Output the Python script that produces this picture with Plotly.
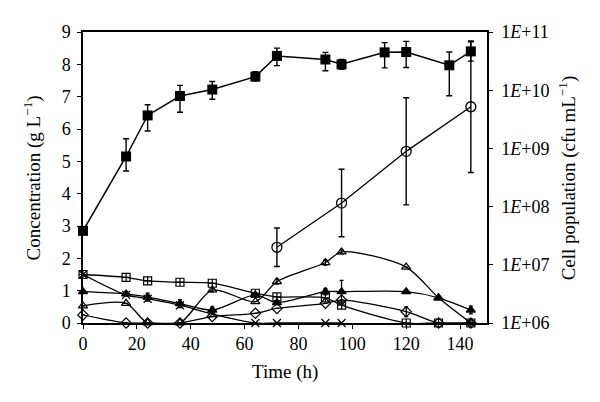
import numpy as np
import plotly.graph_objects as go

# ---------------- data ----------------
t_bio = [0, 16, 24, 36, 48, 64, 72, 90, 96, 112, 120, 136, 144]
bio = [2.85, 5.15, 6.42, 7.02, 7.22, 7.62, 8.26, 8.15, 8.0, 8.37, 8.38, 7.97, 8.4]
bio_err_plus = [0, 0.55, 0.33, 0.33, 0.25, 0.15, 0.24, 0.22, 0.15, 0.3, 0.33, 0.41, 0.3]
bio_err_minus = [0, 0.45, 0.48, 0.5, 0.3, 0.13, 0.3, 0.35, 0.15, 0.48, 0.48, 0.94, 0.3]

t_cell = [72, 96, 120, 144]
cells = [2.0e7, 1.15e8, 8.9e8, 5.2e9]
cells_log_err = [0.33, 0.58, 0.92, 1.13]

t_low = [0, 16, 24, 36, 48, 64, 72, 90, 96, 120, 132, 144]
sq_cross = [1.5, 1.41, 1.3, 1.26, 1.23, 0.92, 0.81, 0.78, 0.55, 0, 0, 0]
tri_open = [0.53, 0.61, 0, 0, 1.02, 0.66, 1.28, 1.87, 2.2, 1.73, 0.78, 0]
tri_open_err = [0, 0, 0, 0, 0.06, 0, 0.08, 0.08, 0.06, 0, 0, 0]
tri_fill = [0.97, 0.9, 0.8, 0.6, 0.4, 0.87, 0.63, 0.97, 0.97, 0.97, 0.78, 0.4]
tri_fill_err = [0, 0.06, 0.12, 0.12, 0.1, 0, 0.06, 0.1, 0.35, 0, 0, 0.12]
diamond = [0.25, 0, 0, 0, 0.2, 0.3, 0.45, 0.61, 0.71, 0.35, 0, 0]
diamond_err = [0, 0, 0, 0, 0, 0, 0, 0, 0, 0.15, 0, 0]

t_x = [0, 16, 24, 36, 48, 64, 72, 90, 96]
x_series = [1.5, 0.87, 0.75, 0.55, 0.28, 0, 0, 0, 0]

x_ticks = [0, 20, 40, 60, 80, 100, 120, 140]
y_ticks = list(range(0, 10))
y2_ticks = [1e6, 1e7, 1e8, 1e9, 1e10, 1e11]
y2_ticktext = ["1<i>E</i>+06", "1<i>E</i>+07", "1<i>E</i>+08",
               "1<i>E</i>+09", "1<i>E</i>+10", "1<i>E</i>+11"]

# ---------------- figure ----------------
FONT = "Liberation Serif"
fig = go.Figure()


def low_trace(x, y, symbol, err=None, size=8):
    tr = go.Scatter(
        x=x, y=y, mode="lines+markers",
        line=dict(color="black", width=1.3, shape="spline", smoothing=0.8),
        marker=dict(symbol=symbol, size=size, color="black",
                    line=dict(color="black", width=1.2)),
        cliponaxis=False, showlegend=False,
    )
    if err is not None:
        tr.error_y = dict(type="data", array=err, visible=True,
                          color="black", thickness=1.3, width=2)
    return tr


fig.add_trace(low_trace(t_x, x_series, "x-thin-open", size=8))
fig.add_trace(low_trace(t_low, diamond, "diamond-open", diamond_err))
fig.add_trace(low_trace(t_low, tri_fill, "triangle-up", tri_fill_err))
fig.add_trace(low_trace(t_low, tri_open, "triangle-up-open", tri_open_err))
fig.add_trace(low_trace(t_low, sq_cross, "square-cross-open"))

fig.add_trace(go.Scatter(
    x=t_bio, y=bio, mode="lines+markers",
    line=dict(color="black", width=1.5),
    marker=dict(symbol="square", size=10, color="black"),
    error_y=dict(type="data", symmetric=False, array=bio_err_plus,
                 arrayminus=bio_err_minus, color="black", thickness=1.4, width=3),
    cliponaxis=False, showlegend=False,
))

cells_arr = np.array(cells)
logv = np.log10(cells_arr)
err_lg = np.array(cells_log_err)
plus = 10 ** (logv + err_lg) - cells_arr
minus = cells_arr - 10 ** (logv - err_lg)
fig.add_trace(go.Scatter(
    x=t_cell, y=cells, mode="lines+markers", yaxis="y2",
    line=dict(color="black", width=1.3),
    marker=dict(symbol="circle-open", size=10, color="black",
                line=dict(width=1.3)),
    error_y=dict(type="data", symmetric=False, array=plus, arrayminus=minus,
                 color="black", thickness=1.4, width=3),
    cliponaxis=False, showlegend=False,
))

axis_common = dict(showline=True, linecolor="black", linewidth=1.5,
                   ticks="outside", tickcolor="black", ticklen=4, tickwidth=1.2,
                   showgrid=False, zeroline=False, automargin=False,
                   tickfont=dict(family=FONT, size=18, color="black"))

fig.update_layout(
    width=600, height=402,
    margin=dict(l=83, r=113, t=32, b=79, autoexpand=False),
    paper_bgcolor="white", plot_bgcolor="white",
    font=dict(family=FONT, size=18, color="black"),
    xaxis=dict(range=[0, 150], tickvals=x_ticks, mirror=True, **axis_common),
    yaxis=dict(range=[0, 9], tickvals=y_ticks, ticklabelstandoff=3, **axis_common),
    yaxis2=dict(type="log", range=[6, 11], overlaying="y", side="right",
                tickvals=y2_ticks, ticktext=y2_ticktext, ticklabelstandoff=5,
                **axis_common),
    annotations=[
        dict(text="Time (h)", xref="paper", yref="paper", x=0.5, y=-0.17,
             xanchor="center", yanchor="middle", showarrow=False,
             font=dict(family=FONT, size=19)),
        dict(text="Concentration (g L<sup>−1</sup>)", xref="paper", yref="paper",
             x=-0.124, y=0.5, textangle=-90, xanchor="center", yanchor="middle",
             showarrow=False, font=dict(family=FONT, size=19)),
        dict(text="Cell population (cfu mL<sup>−1</sup>)", xref="paper", yref="paper",
             x=1.2, y=0.5, textangle=-90, xanchor="center", yanchor="middle",
             showarrow=False, font=dict(family=FONT, size=19)),
    ],
)

fig.write_html(
    "out.html",
    config={"displayModeBar": False},
    post_script="document.body.style.margin='0';document.body.style.overflow='hidden';",
)
